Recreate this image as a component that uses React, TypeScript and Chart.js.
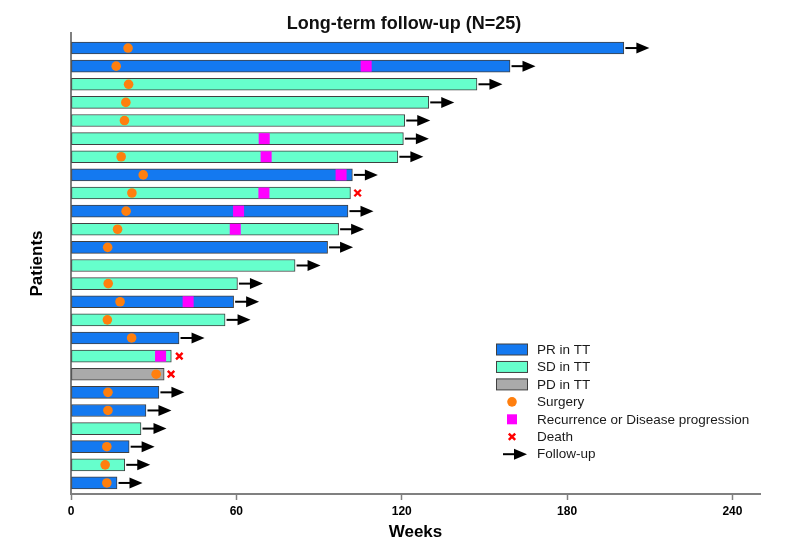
import React, { useEffect, useRef } from 'react';
import { Chart, registerables } from 'chart.js';

Chart.register(...registerables);

// ---------------- DATA ----------------
const titleText = 'Long-term follow-up (N=25)';
const xAxisTitle = 'Weeks';
const yAxisTitle = 'Patients';
const xTicks = [0, 60, 120, 180, 240];

// Patient rows, top to bottom
const patients = Array.from({ length: 25 }, (_, i) => i);
const durations = [200.6, 159.3, 147.3, 129.8, 121.1, 120.6, 118.6, 102.1, 101.4, 100.5, 97.1, 93.1, 81.3, 60.4, 59.0, 55.9, 39.2, 36.4, 33.8, 31.9, 27.2, 25.4, 21.1, 19.5, 16.7];
const responses = ['PR', 'PR', 'SD', 'SD', 'SD', 'SD', 'SD', 'PR', 'SD', 'PR', 'SD', 'PR', 'SD', 'SD', 'PR', 'SD', 'PR', 'SD', 'PD', 'PR', 'PR', 'SD', 'PR', 'SD', 'PR'];
const surgery: (number | null)[] = [20.7, 16.4, 20.9, 19.9, 19.4, null, 18.2, 26.2, 22.1, 20.0, 16.9, 13.3, null, 13.5, 17.8, 13.2, 22.0, null, 30.9, 13.4, 13.4, null, 13.0, 12.4, 13.0];
const recurrence: (number | null)[] = [null, 107.1, null, null, null, 70.1, 70.8, 98.0, 70.0, 60.8, 59.6, null, null, null, 42.5, null, null, 32.5, null, null, null, null, null, null, null];
const death: (number | null)[] = [null, null, null, null, null, null, null, null, 104.0, null, null, null, null, null, null, null, null, 39.3, 36.3, null, null, null, null, null, null];
const followUp = [true, true, true, true, true, true, true, true, false, true, true, true, true, true, true, true, true, false, false, true, true, true, true, true, true];

const legendLabels = ['PR in TT', 'SD in TT', 'PD in TT', 'Surgery', 'Recurrence or Disease progression', 'Death', 'Follow-up'];

// ---------------- STYLE ----------------
const FONT = "'Liberation Sans', Arial, Helvetica, sans-serif";
const COLORS: Record<string, string> = { PR: '#1479F0', SD: '#66FFCC', PD: '#AAAAAA' };
const BAR_BORDER = '#404040';
const SURGERY_COLOR = '#FF7F0E';
const REC_COLOR = '#FF00FF';
const DEATH_COLOR = '#FF0000';
const AXIS_COLOR = '#808080';

function drawArrow(ctx: CanvasRenderingContext2D, x: number, y: number, len: number) {
  ctx.save();
  ctx.strokeStyle = '#000';
  ctx.fillStyle = '#000';
  ctx.lineWidth = 2;
  ctx.beginPath();
  ctx.moveTo(x, y);
  ctx.lineTo(x + len - 11, y);
  ctx.stroke();
  ctx.beginPath();
  ctx.moveTo(x + len - 13, y - 5.5);
  ctx.lineTo(x + len, y);
  ctx.lineTo(x + len - 13, y + 5.5);
  ctx.closePath();
  ctx.fill();
  ctx.restore();
}

const arrowPlugin = {
  id: 'followArrows',
  afterDatasetsDraw(chart: any) {
    const meta = chart.getDatasetMeta(0);
    const ctx = chart.ctx as CanvasRenderingContext2D;
    meta.data.forEach((bar: any, i: number) => {
      if (!followUp[i]) return;
      drawArrow(ctx, bar.x + 1.5, bar.y, 24);
    });
  },
};

const titlePlugin = {
  id: 'customTitle',
  afterDraw(chart: any) {
    const ctx = chart.ctx as CanvasRenderingContext2D;
    ctx.save();
    ctx.font = `bold 18px ${FONT}`;
    ctx.fillStyle = '#111';
    ctx.textAlign = 'center';
    ctx.textBaseline = 'alphabetic';
    ctx.fillText(titleText, 404, 29);
    ctx.restore();
  },
};

const legendPlugin = {
  id: 'customLegend',
  afterDraw(chart: any) {
    const ctx = chart.ctx as CanvasRenderingContext2D;
    const symX = 512;
    const textX = 537;
    const y0 = 349.5;
    const step = 17.45;
    ctx.save();
    ctx.font = `13.5px ${FONT}`;
    ctx.textBaseline = 'middle';
    ctx.textAlign = 'left';
    legendLabels.forEach((label, i) => {
      const y = y0 + i * step;
      if (i < 3) {
        const c = [COLORS.PR, COLORS.SD, COLORS.PD][i];
        ctx.fillStyle = c;
        ctx.fillRect(496.5, y - 5.5, 31, 11);
        ctx.strokeStyle = BAR_BORDER;
        ctx.lineWidth = 1;
        ctx.strokeRect(496.5, y - 5.5, 31, 11);
      } else if (i === 3) {
        ctx.fillStyle = SURGERY_COLOR;
        ctx.beginPath();
        ctx.arc(symX, y, 4.8, 0, Math.PI * 2);
        ctx.fill();
      } else if (i === 4) {
        ctx.fillStyle = REC_COLOR;
        ctx.fillRect(symX - 5, y - 5, 10, 10);
      } else if (i === 5) {
        ctx.strokeStyle = DEATH_COLOR;
        ctx.lineWidth = 2.4;
        ctx.beginPath();
        ctx.moveTo(symX - 3.2, y - 3.2);
        ctx.lineTo(symX + 3.2, y + 3.2);
        ctx.moveTo(symX + 3.2, y - 3.2);
        ctx.lineTo(symX - 3.2, y + 3.2);
        ctx.stroke();
      } else {
        drawArrow(ctx, 503, y, 24);
      }
      ctx.fillStyle = '#1a1a1a';
      ctx.fillText(label, textX, y + 0.5);
    });
    ctx.restore();
  },
};

export default function App() {
  const canvasRef = useRef<HTMLCanvasElement | null>(null);

  useEffect(() => {
    const canvas = canvasRef.current;
    if (!canvas) return;

    const barData = patients.map((p, i) => ({ x: durations[i], y: p }));
    const surgeryData = patients
      .map((p, i) => (surgery[i] == null ? null : { x: surgery[i] as number, y: p }))
      .filter(Boolean);
    const recData = patients
      .map((p, i) => (recurrence[i] == null ? null : { x: recurrence[i] as number, y: p }))
      .filter(Boolean);
    const deathData = patients
      .map((p, i) => (death[i] == null ? null : { x: death[i] as number, y: p }))
      .filter(Boolean);

    const chart = new Chart(canvas, {
      type: 'bar',
      data: {
        datasets: [
          {
            type: 'bar',
            label: 'Duration',
            data: barData as any,
            indexAxis: 'y',
            backgroundColor: responses.map((r) => COLORS[r]),
            borderColor: BAR_BORDER,
            borderWidth: 1,
            borderSkipped: false,
            barThickness: 12,
            order: 10,
          } as any,
          {
            type: 'scatter',
            label: 'Recurrence',
            data: recData as any,
            pointStyle: 'rect',
            pointRadius: 7.8,
            pointBackgroundColor: REC_COLOR,
            pointBorderWidth: 0,
            borderWidth: 0,
            order: 3,
          } as any,
          {
            type: 'scatter',
            label: 'Surgery',
            data: surgeryData as any,
            pointStyle: 'circle',
            pointRadius: 4.8,
            pointBackgroundColor: SURGERY_COLOR,
            pointBorderWidth: 0,
            borderWidth: 0,
            order: 2,
          } as any,
          {
            type: 'scatter',
            label: 'Death',
            data: deathData as any,
            pointStyle: 'crossRot',
            pointRadius: 4.6,
            pointBorderColor: DEATH_COLOR,
            pointBorderWidth: 2.4,
            order: 1,
          } as any,
        ],
      },
      options: {
        indexAxis: 'y',
        animation: false,
        responsive: false,
        maintainAspectRatio: false,
        events: [],
        layout: { padding: { left: 0, right: 25, top: 33, bottom: 0 } },
        plugins: {
          legend: { display: false },
          tooltip: { enabled: false },
          title: { display: false },
        },
        scales: {
          x: {
            type: 'linear',
            position: 'bottom',
            min: 0,
            max: 250,
            offset: false,
            afterFit: (s: any) => {
              s.height = 61;
            },
            afterBuildTicks: (s: any) => {
              s.ticks = xTicks.map((v) => ({ value: v }));
            },
            grid: {
              drawOnChartArea: false,
              drawTicks: true,
              tickLength: 6,
              color: AXIS_COLOR,
              tickWidth: 1.5,
            },
            border: { display: true, color: AXIS_COLOR, width: 2 },
            ticks: {
              font: { family: FONT, size: 12, weight: 'bold' },
              color: '#000',
              padding: 4,
              maxRotation: 0,
            },
            title: {
              display: true,
              text: xAxisTitle,
              font: { family: FONT, size: 17, weight: 'bold' },
              color: '#000',
              padding: { top: 0, bottom: 12 },
            },
          },
          y: {
            type: 'linear',
            reverse: true,
            offset: false,
            min: -0.83,
            max: 24.61,
            afterFit: (s: any) => {
              s.width = 71;
            },
            grid: { display: false, drawTicks: false },
            border: { display: true, color: AXIS_COLOR, width: 2 },
            ticks: { display: false },
            title: {
              display: true,
              text: yAxisTitle,
              font: { family: FONT, size: 17, weight: 'bold' },
              color: '#000',
              padding: { top: 27, bottom: 0 },
            },
          },
        },
      } as any,
      plugins: [arrowPlugin, legendPlugin, titlePlugin],
    });

    return () => chart.destroy();
  }, []);

  return (
    <div style={{ position: 'fixed', left: 0, top: 0, width: 785, height: 555, background: '#fff' }}>
      <canvas ref={canvasRef} width={785} height={555} style={{ width: 785, height: 555, display: 'block' }} />
    </div>
  );
}
